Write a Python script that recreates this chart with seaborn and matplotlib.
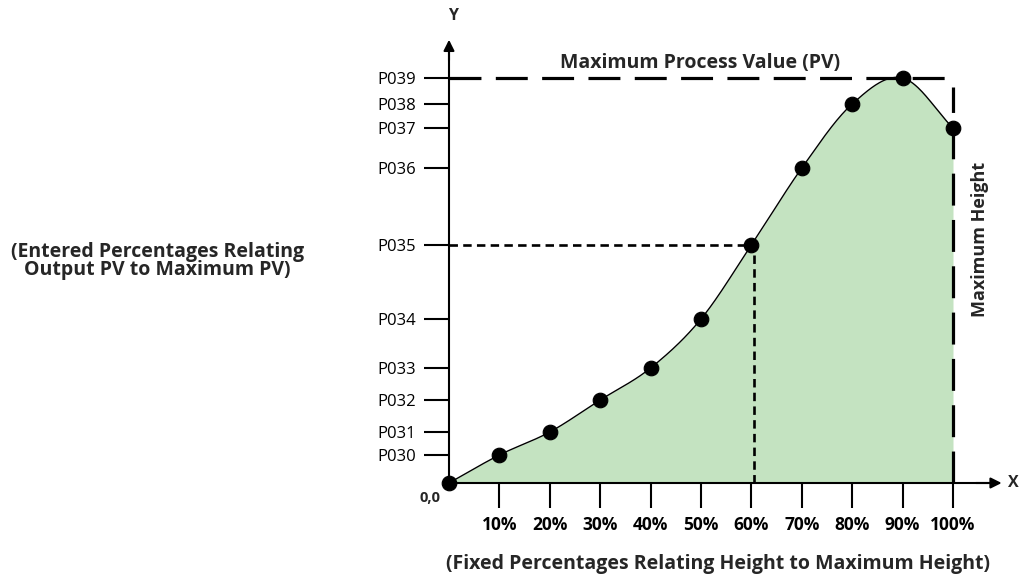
import numpy as np
import matplotlib
matplotlib.use("Agg")
import matplotlib.pyplot as plt
import seaborn as sns

# fixed height percentages (x) and entered PV levels (y, drawn in relative units)
pct = [0, 10, 20, 30, 40, 50, 60, 70, 80, 90, 100]
pv_names = ["P030", "P031", "P032", "P033", "P034", "P035", "P036", "P037", "P038", "P039"]
pv_levels = [28, 51, 83, 115, 164, 238, 315, 355, 379, 405]
# which PV each point uses (origin first, last point goes back down to P037)
point_pv = [None, "P030", "P031", "P032", "P033", "P034", "P035", "P036", "P038", "P039", "P037"]
x_labels = ["10%", "20%", "30%", "40%", "50%", "60%", "70%", "80%", "90%", "100%"]

level = dict(zip(pv_names, pv_levels))
vals = [0 if p is None else level[p] for p in point_pv]


def catmull_rom(xs, ys, n=40):
    pts = np.column_stack([xs, ys]).astype(float)
    P = np.vstack([2 * pts[0] - pts[1], pts, 2 * pts[-1] - pts[-2]])
    out = []
    t = np.linspace(0, 1, n)[:, None]
    for i in range(len(pts) - 1):
        p0, p1, p2, p3 = P[i], P[i + 1], P[i + 2], P[i + 3]
        seg = 0.5 * (2 * p1 + (-p0 + p2) * t + (2 * p0 - 5 * p1 + 4 * p2 - p3) * t ** 2
                     + (-p0 + 3 * p1 - 3 * p2 + p3) * t ** 3)
        out.append(seg if i == 0 else seg[1:])
    out = np.vstack(out)
    return out[:, 0], out[:, 1]


sns.set_style("white")
plt.rcParams["font.family"] = ["Open Sans", "DejaVu Sans"]

fig = plt.figure(figsize=(10.21, 5.79), dpi=100)
ax = fig.add_axes([0, 0, 1, 1])
ax.set_xlim(-449 / 5.04, (1021 - 449) / 5.04)
ax.set_ylim(-96, 483)

cx, cy = catmull_rom(pct, vals)
ax.fill_between(cx, cy, 0, color="#c4e3c1", lw=0, zorder=1)
sns.lineplot(x=cx, y=cy, sort=False, color="black", lw=1, ax=ax, zorder=3)
sns.scatterplot(x=pct, y=vals, s=110, color="black", edgecolor="black", ax=ax, zorder=5)

# reference lines
p39 = level["P039"]
p35 = level["P035"]
ax.plot([0, 98.8], [p39, p39], color="black", lw=2.3, dashes=(10, 4.5), zorder=4)
ax.plot([100, 100], [0, 396], color="black", lw=2.3, dashes=(10, 4.5), zorder=4)
ax.plot([0, 60], [p35, p35], color="black", lw=1.9, dashes=(3.2, 2), zorder=4)
ax.plot([60.6, 60.6], [0, p35 - 6], color="black", lw=1.9, dashes=(3.2, 2), zorder=4)

# axes with arrows
for side in ["top", "right"]:
    ax.spines[side].set_visible(False)
ax.spines["left"].set_position(("data", 0))
ax.spines["bottom"].set_position(("data", 0))
ax.spines["left"].set_bounds(0, 440)
ax.spines["bottom"].set_bounds(0, 108)
for side in ["left", "bottom"]:
    ax.spines[side].set_linewidth(1.5)
    ax.spines[side].set_color("black")
ax.annotate("", xy=(0, 446), xytext=(0, 420),
            arrowprops=dict(arrowstyle="-|>", color="black", lw=1.5, mutation_scale=16))
ax.annotate("", xy=(110.2, 0), xytext=(104, 0),
            arrowprops=dict(arrowstyle="-|>", color="black", lw=1.5, mutation_scale=16))

ax.set_yticks(pv_levels, pv_names)
ax.set_xticks(pct[1:], x_labels)
ax.tick_params(axis="y", direction="out", length=18, width=1.5, pad=5.5,
               labelsize=12, colors="black", left=True)
ax.tick_params(axis="x", direction="out", length=18, width=1.5, pad=5.5,
               labelsize=12.5, colors="black", bottom=True)
for lab in ax.get_xticklabels():
    lab.set_fontweight("bold")

ax.text(0.8, 467, "Y", ha="center", va="center", fontsize=11.5, fontweight="bold")
ax.text(112.0, 0, "X", ha="center", va="center", fontsize=11.5, fontweight="bold")
ax.text(-3.8, -15, "0,0", ha="center", va="center", fontsize=10.5, fontweight="bold")
ax.text(49.8, 420, "Maximum Process Value (PV)", ha="center", va="center",
        fontsize=14, fontweight="bold")
ax.text(105.4, 244, "Maximum Height", ha="center", va="center", rotation=90,
        fontsize=13, fontweight="bold")
ax.text(-57.9, 222, "(Entered Percentages Relating\nOutput PV to Maximum PV)",
        ha="center", va="center", fontsize=14, fontweight="bold", linespacing=0.85)
ax.text(53.4, -81, "(Fixed Percentages Relating Height to Maximum Height)",
        ha="center", va="center", fontsize=14, fontweight="bold")

fig.savefig("out.png", dpi=100)
